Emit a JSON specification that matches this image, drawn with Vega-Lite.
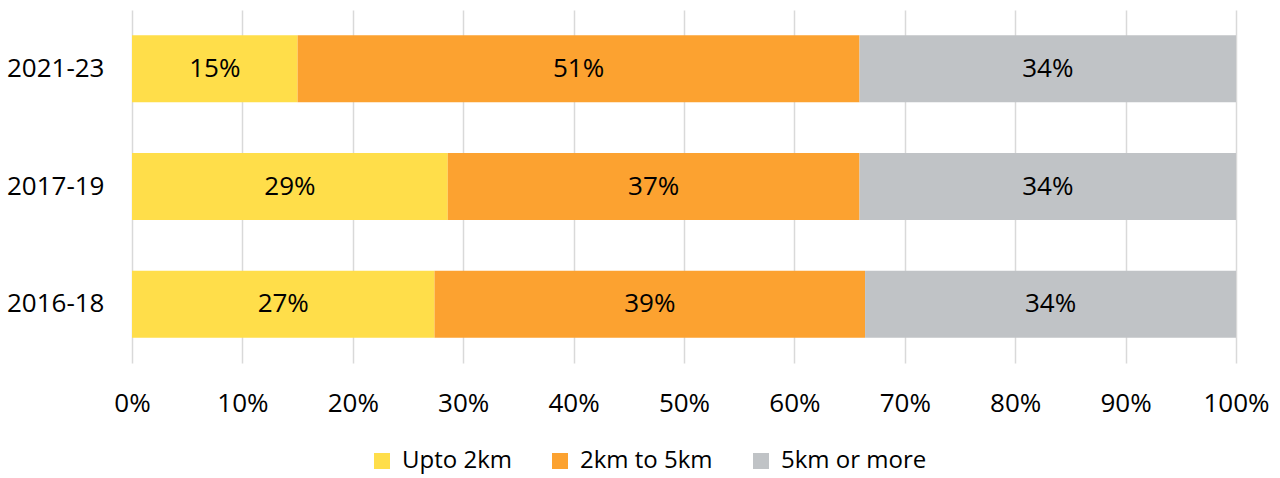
{
  "$schema": "https://vega.github.io/schema/vega-lite/v6.json",
  "autosize": "none",
  "width": 1104,
  "height": 353,
  "padding": {"left": 132, "top": 10, "right": 44, "bottom": 115},
  "background": "white",
  "config": {
    "view": {"stroke": null},
    "font": "Open Sans",
    "axis": {"labelFont": "Open Sans", "labelFontSize": 26, "labelColor": "#000000"},
    "legend": {"labelFont": "Open Sans", "labelFontSize": 24, "labelColor": "#000000"}
  },
  "data": {
    "values": [
      {"period": "2021-23", "category": "Upto 2km", "share": 0.150, "order": 1},
      {"period": "2021-23", "category": "2km to 5km", "share": 0.509, "order": 2},
      {"period": "2021-23", "category": "5km or more", "share": 0.341, "order": 3},
      {"period": "2017-19", "category": "Upto 2km", "share": 0.286, "order": 1},
      {"period": "2017-19", "category": "2km to 5km", "share": 0.373, "order": 2},
      {"period": "2017-19", "category": "5km or more", "share": 0.341, "order": 3},
      {"period": "2016-18", "category": "Upto 2km", "share": 0.274, "order": 1},
      {"period": "2016-18", "category": "2km to 5km", "share": 0.390, "order": 2},
      {"period": "2016-18", "category": "5km or more", "share": 0.336, "order": 3}
    ]
  },
  "transform": [
    {"stack": "share", "groupby": ["period"], "sort": [{"field": "order", "order": "ascending"}], "as": ["s0", "s1"]},
    {"calculate": "(datum.s0 + datum.s1) / 2", "as": "mid"}
  ],
  "encoding": {
    "y": {
      "field": "period",
      "type": "nominal",
      "sort": ["2021-23", "2017-19", "2016-18"],
      "scale": {"paddingInner": 0.43, "paddingOuter": 0.215},
      "axis": {"title": null, "domain": false, "ticks": false, "labelPadding": 28, "grid": false}
    }
  },
  "layer": [
    {
      "mark": {"type": "bar"},
      "encoding": {
        "x": {
          "field": "s0",
          "type": "quantitative",
          "scale": {"domain": [0, 1], "nice": false},
          "axis": {"title": null, "format": ".0%", "values": [0, 0.1, 0.2, 0.3, 0.4, 0.5, 0.6, 0.7, 0.8, 0.9, 1], "domain": false, "ticks": false, "grid": true, "gridColor": "#d9d9d9", "gridWidth": 1.5, "labelPadding": 27, "labelFlush": false}
        },
        "x2": {"field": "s1"},
        "color": {
          "field": "category",
          "type": "nominal",
          "scale": {"domain": ["Upto 2km", "2km to 5km", "5km or more"], "range": ["#FFDE4A", "#FCA230", "#C0C3C6"]},
          "legend": {
            "title": null,
            "orient": "none",
            "direction": "horizontal",
            "legendX": 238,
            "legendY": 439,
            "symbolType": "square",
            "symbolSize": 256,
            "symbolStrokeWidth": 0,
            "labelOffset": 8,
            "columnPadding": 36
          }
        }
      }
    },
    {
      "mark": {"type": "text", "fontSize": 26, "color": "#000000", "align": "center", "baseline": "middle"},
      "encoding": {
        "x": {"field": "mid", "type": "quantitative"},
        "text": {"field": "share", "type": "quantitative", "format": ".0%"}
      }
    }
  ]
}
